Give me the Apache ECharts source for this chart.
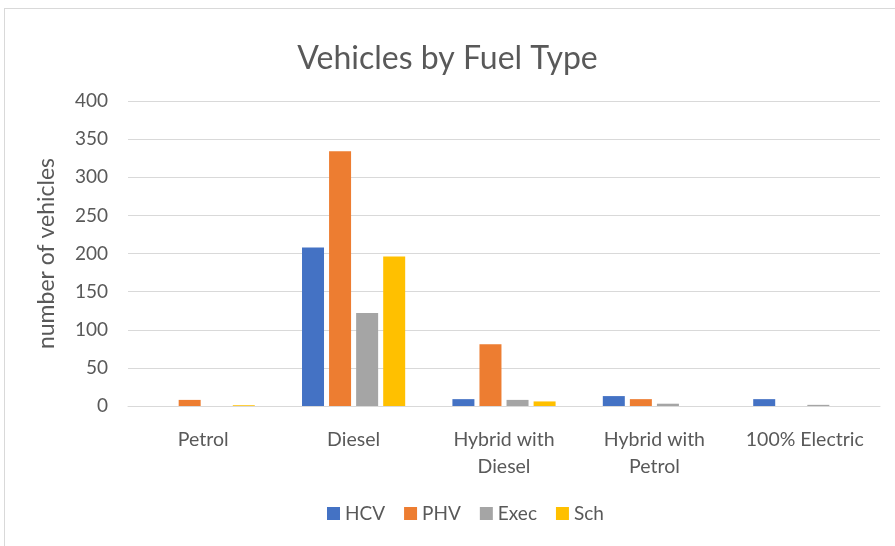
<!DOCTYPE html>
<html>
<head>
<meta charset="utf-8">
<script src="https://cdn.jsdelivr.net/npm/echarts@6/dist/echarts.min.js"></script>
<style>
  html, body { margin: 0; padding: 0; background: #fff; overflow: hidden; }
  #frame { position: absolute; left: 4px; top: 8px; width: 900px; height: 560px; border: 1px solid #d9d9d9; }
  #chart { position: absolute; left: 0; top: 0; width: 895px; height: 546px; }
</style>
</head>
<body>
<div id="frame"></div>
<div id="chart"></div>
<script>
// categories and series values
const categories = ['Petrol', 'Diesel', 'Hybrid with\nDiesel', 'Hybrid with\nPetrol', '100% Electric'];
const hcv  = [0, 208, 9, 13, 9];
const phv  = [8, 334, 81, 9, 0];
const exec = [0, 122, 8, 3, 1.5];
const sch  = [1, 196, 6, 0, 0];

const font = 'Lato, "Noto Sans", sans-serif';
const textColor = '#595959';

function bar(name, data, color) {
  return {
    name: name,
    type: 'bar',
    data: data,
    barWidth: 22,
    barGap: '23%',
    itemStyle: { color: color }
  };
}

const chart = echarts.init(document.getElementById('chart'));
chart.setOption({
  animation: false,
  textStyle: { fontFamily: font },
  title: {
    text: 'Vehicles by Fuel Type',
    left: 'center',
    top: 38,
    textStyle: { fontFamily: font, fontSize: 32, fontWeight: 'normal', color: textColor }
  },
  legend: {
    bottom: 18,
    left: 322,
    itemWidth: 13,
    itemHeight: 13,
    itemGap: 19,
    icon: 'rect',
    textStyle: { fontFamily: font, fontSize: 19, color: textColor },
    data: ['HCV', 'PHV', 'Exec', 'Sch']
  },
  grid: { left: 128, right: 15, top: 101, bottom: 140 },
  xAxis: {
    type: 'category',
    data: categories,
    axisTick: { show: false },
    axisLine: { lineStyle: { color: '#d9d9d9', width: 1 } },
    axisLabel: { interval: 0, fontFamily: font, fontSize: 19.5, color: textColor, margin: 20, lineHeight: 27 }
  },
  yAxis: {
    type: 'value',
    min: 0,
    max: 400,
    interval: 50,
    name: 'number of vehicles',
    nameLocation: 'middle',
    nameGap: 70,
    nameTextStyle: { fontFamily: font, fontSize: 23, color: textColor },
    axisLine: { show: false },
    axisTick: { show: false },
    axisLabel: { fontFamily: font, fontSize: 19, color: textColor, margin: 20 },
    splitLine: { lineStyle: { color: '#d9d9d9', width: 1 } }
  },
  series: [
    bar('HCV', hcv, '#4472c4'),
    bar('PHV', phv, '#ed7d31'),
    bar('Exec', exec, '#a5a5a5'),
    bar('Sch', sch, '#ffc000')
  ]
});
</script>
</body>
</html>
